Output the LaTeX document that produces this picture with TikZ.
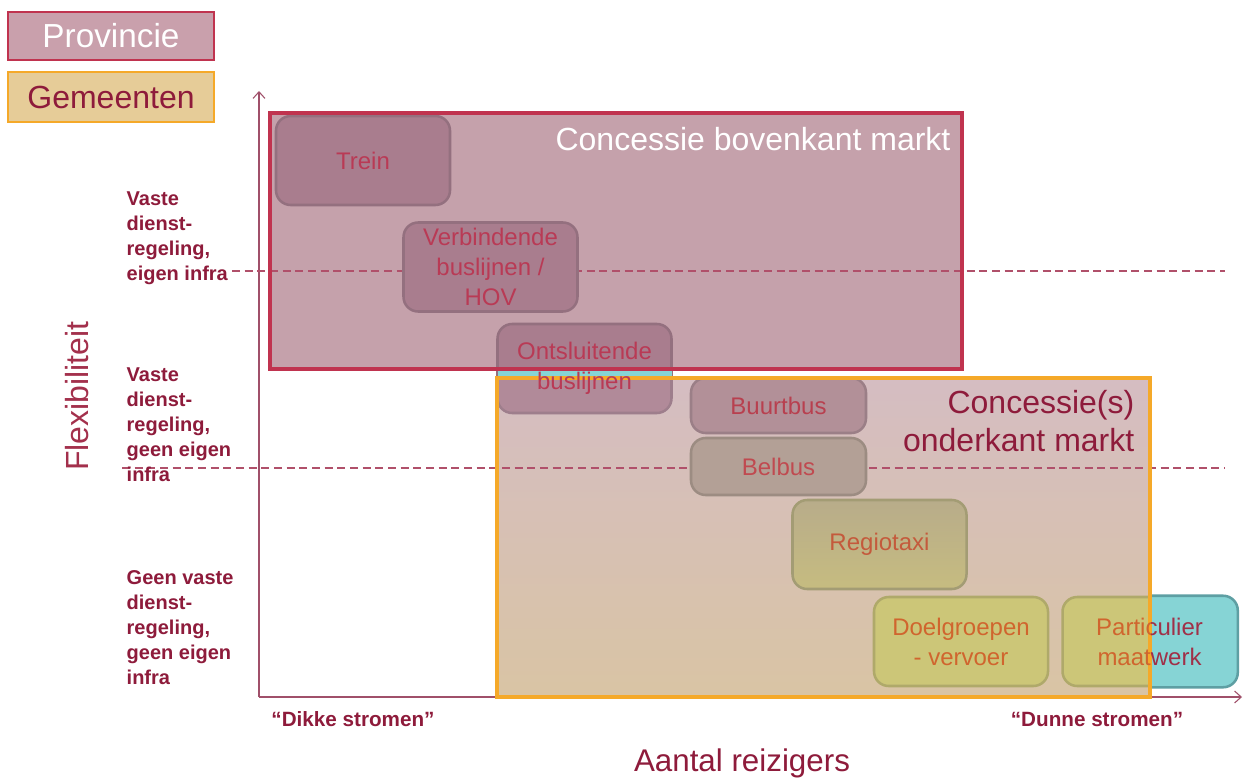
\documentclass[tikz,border=0pt]{standalone}
\usepackage{fontspec}
\setmainfont{Liberation Sans}
\usetikzlibrary{arrows.meta}
\definecolor{provfill}{HTML}{C5A1AB}
\definecolor{provlegfill}{HTML}{C9A0AC}
\definecolor{crimson}{HTML}{C0334F}
\definecolor{orng}{HTML}{F5A929}
\definecolor{gemleg}{HTML}{E6CC98}
\definecolor{gemtop}{HTML}{D5BDC2}
\definecolor{gembot}{HTML}{D9C4A4}
\definecolor{darkred}{HTML}{8E1B3B}
\definecolor{axiscol}{HTML}{A0506A}
\definecolor{dashcol}{HTML}{B0506A}
\definecolor{mauve}{HTML}{A97D8E}
\definecolor{mauveb}{HTML}{94707F}
\definecolor{buurt}{HTML}{B29098}
\definecolor{buurtb}{HTML}{9B7F87}
\definecolor{belb}{HTML}{B3A096}
\definecolor{belbb}{HTML}{9C8C82}
\definecolor{regtop}{HTML}{B8AC8A}
\definecolor{regbot}{HTML}{C6BC80}
\definecolor{regb}{HTML}{A39C74}
\definecolor{doel}{HTML}{CCC678}
\definecolor{doelb}{HTML}{AFA96A}
\definecolor{cyanc}{HTML}{86D4D5}
\definecolor{tealb}{HTML}{5E9FA3}
\definecolor{txtcrim}{HTML}{B93A55}
\definecolor{txtbuurt}{HTML}{B8404F}
\definecolor{txtbel}{HTML}{C04A50}
\definecolor{txtreg}{HTML}{C45A3C}
\definecolor{txtdoel}{HTML}{D0652E}
\definecolor{txtpart}{HTML}{A03048}
\definecolor{flexcol}{HTML}{A3304C}
\tikzset{
  rbox/.style={rounded corners=11pt, line width=1.9pt, inner sep=0pt},
  boxtxt/.style={align=center, font=\fontsize{18}{22.5}\selectfont},
  bigtxt/.style={font=\fontsize{24}{29}\selectfont},
  sidetxt/.style={align=left, anchor=west, text=darkred, font=\fontsize{15}{18.7}\selectfont\bfseries},
  dashln/.style={draw=dashcol, line width=0.9pt, dash pattern=on 6pt off 3.5pt},
  axisln/.style={draw=axiscol, line width=0.8pt, -{Straight Barb[length=5pt,width=9pt]}}
}
\begin{document}
\begin{tikzpicture}[x=0.75pt,y=-0.75pt]
\useasboundingbox (0,0) rectangle (1244,781);
\fill[white] (0,0) rectangle (1244,781);

% legend
\node[draw=crimson, line width=2.2pt, fill=provlegfill, minimum width=154.5pt, minimum height=36pt, inner sep=0pt,
  text=white, font=\fontsize{25}{30}\selectfont] (legprov) at (111,36) {Provincie};
\node[draw=orng, line width=2.2pt, fill=gemleg, minimum width=154.5pt, minimum height=37.5pt, inner sep=0pt,
  text=darkred, font=\fontsize{24}{29}\selectfont] (leggem) at (111,97) {Gemeenten};

% axes
\coordinate (O) at (259,697);
\coordinate (Ytop) at (259,91);
\coordinate (Xend) at (1242,697);
\draw[axisln] (O) -- (Ytop);
\draw[axisln] (O) -- (Xend);

% big areas (fills)
\fill[provfill] (270,113) rectangle (962,369);
\shade[top color=gemtop, bottom color=gembot] (497,378) rectangle (1150,697);

% dashed separators
\coordinate (d1a) at (232,271);
\coordinate (d1b) at (1225,271);
\coordinate (d2a) at (122,468);
\coordinate (d2b) at (1225,468);
\draw[dashln] (d1a) -- (d1b);
\draw[dashln] (d2a) -- (d2b);

% rounded boxes
\node[rbox, fill=mauve, draw=mauveb, minimum width=130.5pt, minimum height=66.75pt] (trein) at (363,160.5) {};
\node[rbox, fill=mauve, draw=mauveb, minimum width=130.5pt, minimum height=66.75pt] (verb) at (490.5,267) {};
\node[rbox, fill=mauve, draw=mauveb, minimum width=130.5pt, minimum height=66.75pt] (ont) at (584.5,368.5) {};
\node[rbox, fill=buurt, draw=buurtb, minimum width=131.25pt, minimum height=41.25pt] (buurt) at (778.5,405.5) {};
\node[rbox, fill=belb, draw=belbb, minimum width=131.25pt, minimum height=42.75pt] (bel) at (778.5,466.5) {};
\node[rbox, top color=regtop, bottom color=regbot, draw=regb, minimum width=130.5pt, minimum height=66.75pt] (reg) at (879.5,544.5) {};
\node[rbox, fill=doel, draw=doelb, minimum width=130.5pt, minimum height=66.75pt] (doel) at (961,641.5) {};
\node[rbox, fill=doel, draw=doelb, minimum width=130.5pt, minimum height=66.75pt] (part) at (1149.5,641.5) {};

% lighter lower part of Ontsluitende (inside Gemeenten area)
\begin{scope}
  \clip (490,378) rectangle (680,420);
  \fill[rbox, white, opacity=0.1] (ont.south west) rectangle (ont.north east);
\end{scope}

% cyan parts
\fill[cyanc] (497.5,369.5) rectangle (671.5,377.5);
\begin{scope}
  \clip (1151,580) rectangle (1244,700);
  \draw[rbox, fill=cyanc, draw=tealb] (part.south west) rectangle (part.north east);
\end{scope}

% big area borders
\draw[crimson, line width=2.3pt] (270,113) rectangle (962,369);
\draw[orng, line width=2.3pt] (497,378) rectangle (1150,697);

% area titles
\node[bigtxt, text=white] (ctop) at (753,139) {Concessie bovenkant markt};
\node[bigtxt, text=darkred, anchor=east] (cbot1) at (1139,405) {Concessie(s)};
\node[bigtxt, text=darkred, anchor=east] (cbot2) at (1139,440) {onderkant markt};

% box texts
\node[boxtxt, text=txtcrim] (treinT) at (trein) {Trein};
\node[boxtxt, text=txtcrim] (verbT) at (verb) {Verbindende\\buslijnen /\\HOV};
\node[boxtxt, text=txtcrim] (ontT) at (ont) {Ontsluitende\\buslijnen};
\node[boxtxt, text=txtbuurt] (buurtT) at (buurt) {Buurtbus};
\node[boxtxt, text=txtbel] (belT) at (bel) {Belbus};
\node[boxtxt, text=txtreg] (regT) at (reg) {Regiotaxi};
\node[boxtxt, text=txtdoel] (doelT) at (doel) {Doelgroepen\\- vervoer};
\begin{scope}
  \clip (1040,590) rectangle (1151,700);
  \node[boxtxt, text=txtdoel] (partL) at (part) {Particulier\\maatwerk};
\end{scope}
\begin{scope}
  \clip (1151,590) rectangle (1244,700);
  \node[boxtxt, text=txtpart] (partR) at (part) {Particulier\\maatwerk};
\end{scope}

% side labels
\node[sidetxt] (s1) at (122,238.5) {Vaste\\dienst-\\regeling,\\eigen infra};
\node[sidetxt] (s2) at (122,425) {Vaste\\dienst-\\regeling,\\geen eigen\\infra};
\node[sidetxt] (s3) at (122,627.5) {Geen vaste\\dienst-\\regeling,\\geen eigen\\infra};

% axis titles
\node[text=flexcol, rotate=90, font=\fontsize{24}{29}\selectfont] (flex) at (77,396) {Flexibiliteit};
\node[text=darkred, font=\fontsize{15.5}{18}\selectfont\bfseries] (dikke) at (353,719) {“Dikke stromen”};
\node[text=darkred, font=\fontsize{15.5}{18}\selectfont\bfseries] (dunne) at (1097,719) {“Dunne stromen”};
\node[text=darkred, font=\fontsize{23.5}{28}\selectfont] (aantal) at (742,763) {Aantal reizigers};
\end{tikzpicture}
\end{document}
